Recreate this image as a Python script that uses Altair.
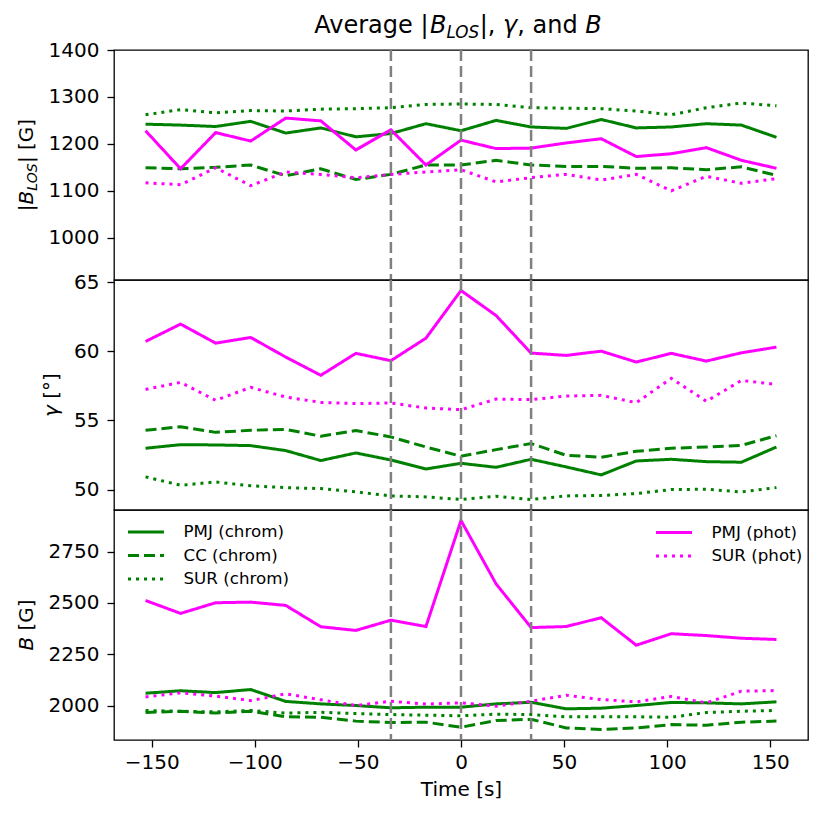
import altair as alt
import pandas as pd

FONT = "DejaVu Sans"

# ---------------- data ----------------
time_s = [-153, -136, -119, -102, -85, -68, -51, -34, -17, 0, 17, 34, 51, 68, 85, 102, 119, 136, 153]
event_times = [-34, 0, 34]

chrom_names = ["PMJ (chrom)", "\u00a0CC (chrom)", "SUR (chrom)"]
phot_names = ["PMJ (phot)", "SUR (phot)"]

# |B_LOS| [G]
pmj_chrom_blos = [1242, 1240, 1237, 1248, 1223, 1234, 1215, 1222, 1243, 1228, 1250, 1236, 1233, 1252, 1234, 1236, 1243, 1240, 1214]
cc_chrom_blos = [1149, 1147, 1150, 1155, 1132, 1147, 1124, 1135, 1155, 1155, 1165, 1155, 1152, 1152, 1148, 1149, 1145, 1151, 1133]
sur_chrom_blos = [1262, 1273, 1266, 1271, 1270, 1274, 1275, 1277, 1284, 1285, 1284, 1277, 1276, 1275, 1270, 1262, 1277, 1287, 1281]
pmj_phot_blos = [1228, 1147, 1224, 1206, 1255, 1249, 1187, 1230, 1155, 1208, 1190, 1191, 1202, 1211, 1173, 1179, 1192, 1165, 1148]
sur_phot_blos = [1117, 1113, 1149, 1111, 1140, 1135, 1128, 1135, 1140, 1145, 1119, 1128, 1135, 1123, 1135, 1100, 1131, 1116, 1126]

# gamma [deg]
pmj_chrom_gam = [52.99, 53.25, 53.23, 53.18, 52.82, 52.10, 52.65, 52.14, 51.49, 51.90, 51.61, 52.19, 51.64, 51.06, 52.07, 52.19, 52.02, 51.98, 53.08]
cc_chrom_gam = [54.29, 54.55, 54.14, 54.29, 54.36, 53.86, 54.27, 53.81, 53.08, 52.41, 52.89, 53.33, 52.48, 52.34, 52.77, 52.99, 53.08, 53.20, 53.90]
sur_chrom_gam = [50.92, 50.31, 50.55, 50.27, 50.14, 50.07, 49.83, 49.54, 49.47, 49.28, 49.52, 49.28, 49.54, 49.57, 49.71, 50.00, 50.02, 49.83, 50.14]
pmj_phot_gam = [60.72, 61.98, 60.60, 61.01, 59.59, 58.27, 59.86, 59.33, 60.96, 64.41, 62.60, 59.88, 59.71, 60.02, 59.23, 59.86, 59.30, 59.90, 60.31]
sur_phot_gam = [57.25, 57.76, 56.46, 57.40, 56.70, 56.31, 56.22, 56.27, 55.90, 55.78, 56.55, 56.51, 56.77, 56.82, 56.29, 58.05, 56.39, 57.90, 57.61]

# B [G]
pmj_chrom_b = [2060, 2072, 2063, 2078, 2020, 2008, 2000, 1989, 1992, 1992, 2008, 2016, 1984, 1987, 2000, 2015, 2013, 2008, 2018]
cc_chrom_b = [1966, 1972, 1963, 1972, 1945, 1943, 1924, 1917, 1919, 1894, 1927, 1933, 1891, 1883, 1891, 1907, 1904, 1919, 1924]
sur_chrom_b = [1976, 1972, 1969, 1976, 1963, 1967, 1961, 1956, 1953, 1950, 1958, 1956, 1945, 1945, 1945, 1943, 1966, 1972, 1976]
pmj_phot_b = [2512, 2449, 2501, 2504, 2488, 2384, 2366, 2416, 2385, 2902, 2593, 2380, 2385, 2428, 2294, 2350, 2341, 2328, 2322]
sur_phot_b = [2042, 2062, 2046, 2024, 2057, 2028, 2000, 2021, 2007, 2013, 1997, 2021, 2050, 2029, 2018, 2044, 2013, 2070, 2073]

x_ticks = [-150, -100, -50, 0, 50, 100, 150]
blos_ticks = [1000, 1100, 1200, 1300, 1400]
gam_ticks = [50, 55, 60, 65]
b_ticks = [2000, 2250, 2500, 2750]

# ---------------- layout / style ----------------
W, H = 694, 230
XDOM = [-168.3, 168.3]

GREEN = "#008000"
MAGENTA = "#ff00ff"
DASHES = [[1, 0], [11, 5], [3, 5]]
PHOT_DASHES = [[1, 0], [3, 5]]

EM = {'A': .684, 'v': .592, 'e': .615, 'r': .411, 'a': .613, 'g': .635, ' ': .318,
      '\u00a0': .318, '|': .337, 'B': .686, 'L': .557, 'O': .787, 'S': .635, ',': .318,
      'γ': .592, 'n': .634, 'd': .635, '[': .390, ']': .390, 'G': .776, '°': .500}


def tw(s, size):
    return sum(EM.get(c, .6) for c in s) * size


def long_df(names, series):
    rows = []
    for name, vals in zip(names, series):
        for t, v in zip(time_s, vals):
            rows.append({"t": t, "v": v, "series": name})
    return pd.DataFrame(rows)


def text_piece(txt, size, italic, x, y, angle=0):
    kw = dict(text=txt, fontSize=size, font=FONT, color="black", align="left",
              baseline="alphabetic")
    if italic:
        kw["fontStyle"] = "italic"
    if angle:
        kw["angle"] = angle
    return alt.Chart(alt.Data(values=[{}])).mark_text(**kw).encode(
        x=alt.value(x), y=alt.value(y))


def hrow(pieces, cx, baseline):
    """horizontal composite text centred at cx"""
    total = sum(tw(p[0], p[1]) for p in pieces)
    pos = cx - total / 2
    out = []
    for txt, size, it, dy in pieces:
        s = txt.lstrip(" ")
        lead = tw(txt[:len(txt) - len(s)], size)
        out.append(text_piece(s, size, it, pos + lead, baseline + dy))
        pos += tw(txt, size)
    return out


def vrow(pieces, cy, xbase):
    """rotated (bottom-to-top) composite text centred at cy"""
    total = sum(tw(p[0], p[1]) for p in pieces)
    pos = cy + total / 2
    out = []
    for txt, size, it, dy in pieces:
        s = txt.lstrip(" ")
        lead = tw(txt[:len(txt) - len(s)], size)
        out.append(text_piece(s, size, it, xbase + dy, pos - lead, angle=270))
        pos -= tw(txt, size)
    return out


def make_legend(x, y):
    # long horizontal stroke symbol (2*sqrt(size) = 36 px) with a compact row height
    return alt.Legend(orient="none", legendX=x, legendY=y, title=None,
                      symbolType="M-2,0H2", symbolSize=324, symbolStrokeWidth=3,
                      symbolOffset=7.5, symbolFillColor="transparent",
                      labelFontSize=16.7, labelFont=FONT, labelColor="black",
                      labelOffset=27, rowPadding=3.5, padding=0)


def panel(chrom_vals, phot_vals, ydom, yticks, bottom, title_parts, ytitle, ytitle_x, legends=False):
    if bottom:
        xaxis = alt.Axis(values=x_ticks, title="Time [s]", titleFont=FONT, titleFontSize=20,
                         titleFontWeight="normal", titleColor="black", titlePadding=7,
                         labelFont=FONT, labelFontSize=20, labelColor="black", format="d",
                         tickSize=7, tickWidth=1.3, tickColor="black", labelPadding=5,
                         domain=False, grid=False)
    else:
        xaxis = None
    yaxis = alt.Axis(values=yticks, title=None, labelFont=FONT, labelFontSize=20, format="d",
                     labelColor="black", tickSize=7, tickWidth=1.3, tickColor="black",
                     labelPadding=8, domain=False, grid=False)
    xs = alt.X("t:Q", scale=alt.Scale(domain=XDOM, nice=False, zero=False), axis=xaxis)
    ys = alt.Y("v:Q", scale=alt.Scale(domain=ydom, nice=False, zero=False), axis=yaxis)

    lg_c = make_legend(14, 11.5) if legends else None
    lg_p = make_legend(542, 12) if legends else None

    chrom = alt.Chart(long_df(chrom_names, chrom_vals)).mark_line(strokeWidth=3, clip=True).encode(
        x=xs, y=ys,
        color=alt.Color("series:N", sort=chrom_names,
                        scale=alt.Scale(domain=chrom_names, range=[GREEN] * 3), legend=lg_c),
        strokeDash=alt.StrokeDash("series:N", sort=chrom_names,
                                  scale=alt.Scale(domain=chrom_names, range=DASHES), legend=lg_c),
    )
    phot = alt.Chart(long_df(phot_names, phot_vals)).mark_line(strokeWidth=3, clip=True).encode(
        x=xs, y=ys,
        color=alt.Color("series:N", sort=phot_names,
                        scale=alt.Scale(domain=phot_names, range=[MAGENTA] * 2), legend=lg_p),
        strokeDash=alt.StrokeDash("series:N", sort=phot_names,
                                  scale=alt.Scale(domain=phot_names, range=PHOT_DASHES), legend=lg_p),
    )
    vlines = alt.Chart(pd.DataFrame({"t": event_times})).mark_rule(
        color="#808080", strokeWidth=2.5, strokeDash=[11, 5]).encode(x="t:Q")

    layers = [chrom, phot, vlines]
    if title_parts:
        layers += hrow(title_parts, W / 2 - 3, -17)
    layers += vrow(ytitle, H / 2, ytitle_x)
    return alt.layer(*layers).resolve_scale(color="independent", strokeDash="independent").properties(
        width=W, height=H)


title_parts = [("Average |", 24, False, 0), ("B", 24, True, 0), ("LOS", 16.8, True, 5),
               ("|, ", 24, False, 0), ("γ", 24, True, 0), (", and ", 24, False, 0), ("B", 24, True, 0)]

p1 = panel([pmj_chrom_blos, cc_chrom_blos, sur_chrom_blos], [pmj_phot_blos, sur_phot_blos],
           [910, 1400], blos_ticks, False, title_parts,
           [("|", 20, False, 0), ("B", 20, True, 0), ("LOS", 14, True, 4), ("| [G]", 20, False, 0)], -81)
p2 = panel([pmj_chrom_gam, cc_chrom_gam, sur_chrom_gam], [pmj_phot_gam, sur_phot_gam],
           [48.52, 65.17], gam_ticks, False, None,
           [("γ", 20, True, 0), (" [°]", 20, False, 0)], -56)
p3 = panel([pmj_chrom_b, cc_chrom_b, sur_chrom_b], [pmj_phot_b, sur_phot_b],
           [1832, 2953], b_ticks, True, None,
           [("B", 20, True, 0), (" [G]", 20, False, 0)], -81, legends=True)

chart = alt.vconcat(p1, p2, p3, spacing=0, bounds="flush").resolve_scale(
    color="independent", strokeDash="independent"
).properties(
    padding={"left": 8, "top": 5, "right": 5, "bottom": 5},
    background="white",
).configure_view(stroke="black", strokeWidth=1.3)

chart.save("out.html", embed_options={"renderer": "svg", "actions": False})
